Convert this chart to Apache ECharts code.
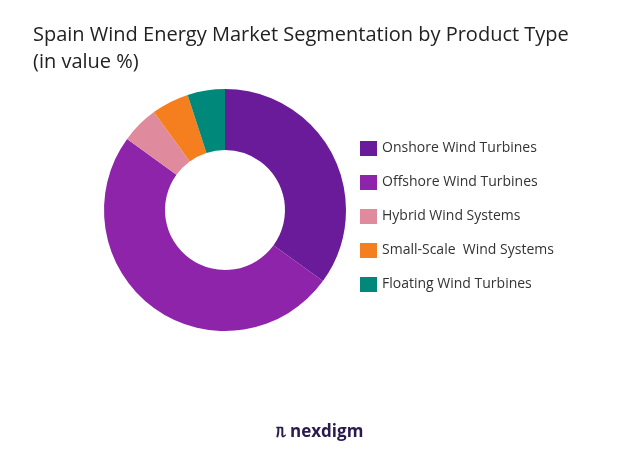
<!DOCTYPE html>
<html><head><meta charset="utf-8">
<script src="https://cdn.jsdelivr.net/npm/echarts@6/dist/echarts.min.js"></script>
<style>html,body{margin:0;padding:0;background:#fff}#c{width:639px;height:473px}</style>
</head><body><div id="c"></div>
<script>
const categories = ["Onshore Wind Turbines","Offshore Wind Turbines","Hybrid Wind Systems","Small-Scale  Wind Systems","Floating Wind Turbines"];
const values = [35, 50, 5, 5, 5];
const colors = ["#6a1b9a","#8e24aa","#e08a9e","#f57f1f","#00897b"];
const chart = echarts.init(document.getElementById('c'));
chart.setOption({
  animation:false,
  color: colors,
  title:{text:"Spain Wind Energy Market Segmentation by Product Type\n(in value %)",left:28,top:17,
    textStyle:{fontFamily:"Open Sans",fontSize:20,fontWeight:'normal',color:'#222',lineHeight:27}},
  legend:{orient:'vertical',left:355,top:136,itemWidth:17,itemHeight:15,itemGap:19,icon:'rect',
    textStyle:{fontFamily:"Open Sans",fontSize:14,color:'#333'}},
  graphic:[{type:'text',left:'center',top:424,style:{text:'ᥰ nexdigm',font:'bold 17px "Open Sans"',fill:'#2a1a4e'}}],
  series:[{type:'pie',center:[225,210],radius:[60,121],startAngle:90,clockwise:true,
    label:{show:false},labelLine:{show:false},
    itemStyle:{borderColor:'#fff',borderWidth:0},
    data:categories.map((n,i)=>({name:n,value:values[i]}))}]
});
</script></body></html>
